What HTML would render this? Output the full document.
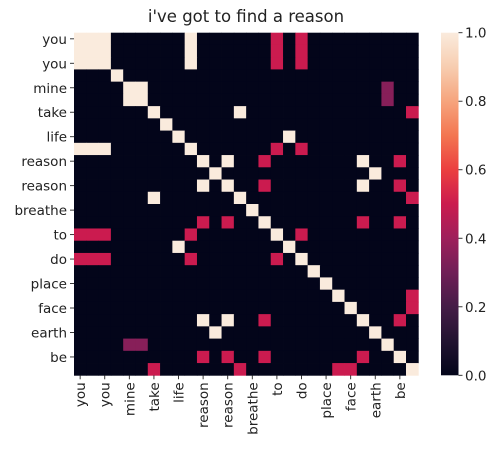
<!DOCTYPE html>
<html><head><meta charset="utf-8"><style>
body{margin:0;background:#fff;}
svg text{font-family:"DejaVu Sans","Liberation Sans",sans-serif;fill:#222;}
</style></head><body>
<svg id="chart" width="499" height="451" xmlns="http://www.w3.org/2000/svg">
<defs>
<linearGradient id="cbgrad" x1="0" y1="1" x2="0" y2="0">
<stop offset="0" stop-color="#03051a"/><stop offset="0.1" stop-color="#221331"/><stop offset="0.2" stop-color="#451c47"/><stop offset="0.3" stop-color="#701f57"/><stop offset="0.4" stop-color="#9e1f5b"/><stop offset="0.5" stop-color="#cb1b4f"/><stop offset="0.6" stop-color="#eb3f3f"/><stop offset="0.7" stop-color="#f37651"/><stop offset="0.8" stop-color="#f6a47d"/><stop offset="0.9" stop-color="#f7cdb0"/><stop offset="1" stop-color="#faebdd"/>
</linearGradient>
</defs>
<text x="246" y="22" font-size="16.5" text-anchor="middle">i've got to find a reason</text>
<g id="cells"></g><g id="xaxis"></g><g id="yaxis"></g>
<rect x="441" y="32.7" width="17.5" height="342.6" fill="url(#cbgrad)"/>
<g id="cbticks"></g>
</svg>
<script>
const words = ["you","you","you","i","mine","mine","take","my","life","you","reason","a","reason","for","breathe","a","to","it","do","in","place","my","face","the","earth","me","be","this"];
const rows = [
"1110000001000000505000000000",
"1110000001000000505000000000",
"1110000001000000505000000000",
"0001000000000000000000000000",
"0000110000000000000000000300",
"0000110000000000000000000300",
"0000001000000100000000000005",
"0000000100000000000000000000",
"0000000010000000010000000000",
"1110000001000000505000000000",
"0000000000101005000000010050",
"0000000000010000000000001000",
"0000000000101005000000010050",
"0000001000000100000000000005",
"0000000000000010000000000000",
"0000000000505001000000050050",
"5550000005000000105000000000",
"0000000010000000010000000000",
"5550000005000000501000000000",
"0000000000000000000100000000",
"0000000000000000000010000000",
"0000000000000000000001000005",
"0000000000000000000000100005",
"0000000000101005000000010050",
"0000000000010000000000001000",
"0000330000000000000000000100",
"0000000000505005000000050010",
"0000005000000500000005500001"];
const codeValues = {"0":0,"1":1,"5":0.5,"3":0.35};
const cbTicks = [0,0.2,0.4,0.6,0.8,1.0];

const NS="http://www.w3.org/2000/svg";
const X0=74,X1=418.3,Y0=32.7,Y1=375.3,N=words.length;
const cw=(X1-X0)/N,ch=(Y1-Y0)/N;
const xs=i=>X0+i*cw, ys=i=>Y0+i*ch;
const stops=[[0,[3,5,26]],[0.1,[34,19,49]],[0.2,[69,28,71]],[0.3,[112,31,87]],[0.4,[158,31,91]],[0.5,[203,27,79]],[0.6,[235,63,63]],[0.7,[243,118,81]],[0.8,[246,164,125]],[0.9,[247,205,176]],[1,[250,235,221]]];
function color(v){for(let k=1;k<stops.length;k++){if(v<=stops[k][0]){const a=stops[k-1],b=stops[k],t=(v-a[0])/(b[0]-a[0]);return 'rgb('+a[1].map((c,j)=>Math.round(c+(b[1][j]-c)*t)).join(',')+')';}}return 'rgb(250,235,221)';}
function mk(tag,attrs,parent){const e=document.createElementNS(NS,tag);for(const k in attrs)e.setAttribute(k,attrs[k]);parent.appendChild(e);return e;}
const gC=document.getElementById('cells'),gX=document.getElementById('xaxis'),gY=document.getElementById('yaxis'),gB=document.getElementById('cbticks');
rows.forEach((row,r)=>{row.split('').forEach((ch2,c)=>{const v=codeValues[ch2];
const el=mk('rect',{x:xs(c),y:ys(r),width:cw+0.4,height:ch+0.4,fill:color(v)},gC);

});});
words.forEach((w,i)=>{if(i%2)return;
const cx=xs(i)+cw/2,cy=ys(i)+ch/2;
const tx=mk('line',{x1:cx,y1:Y1,x2:cx,y2:Y1+4,stroke:'#222','stroke-width':0.9},gX);


const lx=mk('text',{x:0,y:0,'font-size':13.5,'text-anchor':'end','transform':'translate('+(cx+5)+','+(Y1+7)+') rotate(-90)'},gX);
lx.textContent=w;


const ty=mk('line',{x1:X0-4,y1:cy,x2:X0,y2:cy,stroke:'#222','stroke-width':0.9},gY);


const ly=mk('text',{x:X0-7,y:cy+5,'font-size':13.5,'text-anchor':'end'},gY);
ly.textContent=w;

});
cbTicks.forEach(t=>{const y=Y1-t*(Y1-Y0);
const l=mk('line',{x1:458.5,y1:y,x2:462.5,y2:y,stroke:'#222','stroke-width':0.9},gB);


const tt=mk('text',{x:465,y:y+5,'font-size':13.5},gB);
tt.textContent=t.toFixed(1);

});
</script>
</body></html>
